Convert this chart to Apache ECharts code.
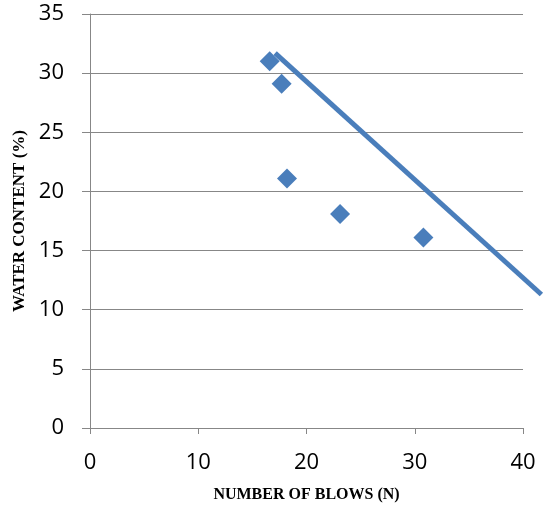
<!DOCTYPE html>
<html><head><meta charset="utf-8">
<script src="https://cdn.jsdelivr.net/npm/echarts@6/dist/echarts.min.js"></script>
<style>html,body{margin:0;padding:0;background:#fff}#c{width:546px;height:508px}</style>
</head><body><div id="c"></div>
<script>
const blows = [16.6, 17.7, 18.2, 23.1, 30.8];
const waterContent = [31.0, 29.1, 21.1, 18.1, 16.1];
const fitX = [17.1, 41.7];
const fitY = [31.7, 11.4];
const xTicks = [0, 10, 20, 30, 40];
const yTicks = [0, 5, 10, 15, 20, 25, 30, 35];

const chart = echarts.init(document.getElementById('c'), null, {renderer: 'canvas'});
const blue = '#4A7EBB';
const gray = '#878787';
const plotLeft = 90, plotRight = 23, plotTop = 14, plotBottom = 78;
const plotW = 546 - plotLeft - plotRight;
const xMax = xTicks[xTicks.length-1];
// overflow grid (same scale, extends to the right edge) so the fit line can run past x=40
const xMaxExt = xMax * (546 - plotLeft) / plotW;
chart.setOption({
  animation: false,
  grid: [
    {left: plotLeft, right: plotRight, top: plotTop, bottom: plotBottom, containLabel: false},
    {left: plotLeft, right: 0, top: plotTop, bottom: plotBottom, containLabel: false}
  ],
  xAxis: [{
    type: 'value', gridIndex: 0, min: xTicks[0], max: xMax, interval: 10,
    name: 'NUMBER OF BLOWS (N)', nameLocation: 'middle', nameGap: 59,
    nameTextStyle: {fontFamily: 'Liberation Serif', fontWeight: 'bold', fontSize: 16, color: '#000'},
    axisLine: {show: true, onZero: false, lineStyle: {color: gray, width: 1}},
    axisTick: {show: true, length: 6, lineStyle: {color: gray}},
    axisLabel: {margin: 24, fontFamily: 'Open Sans', fontSize: 22, color: '#000'},
    splitLine: {show: false}
  }, {
    type: 'value', gridIndex: 1, min: 0, max: xMaxExt, show: false, splitLine: {show: false}
  }],
  yAxis: [{
    type: 'value', gridIndex: 0, min: yTicks[0], max: yTicks[yTicks.length-1], interval: 5,
    name: 'WATER CONTENT (%)', nameLocation: 'middle', nameGap: 57,
    nameTextStyle: {fontFamily: 'Liberation Serif', fontWeight: 'bold', fontSize: 17, color: '#000'},
    axisLine: {show: true, onZero: false, lineStyle: {color: gray, width: 1}},
    axisTick: {show: true, length: 8, lineStyle: {color: gray}},
    axisLabel: {margin: 26, padding: [3, 0, 0, 0], fontFamily: 'Open Sans', fontSize: 22, color: '#000'},
    splitLine: {show: true, lineStyle: {color: gray, width: 1}}
  }, {
    type: 'value', gridIndex: 1, min: yTicks[0], max: yTicks[yTicks.length-1], show: false, splitLine: {show: false}
  }],
  series: [
    {
      type: 'line', xAxisIndex: 1, yAxisIndex: 1, data: fitX.map((x, i) => [x, fitY[i]]),
      showSymbol: false, symbol: 'none', lineStyle: {color: blue, width: 5}, z: 2
    },
    {
      type: 'scatter', xAxisIndex: 0, yAxisIndex: 0, data: blows.map((x, i) => [x, waterContent[i]]),
      symbol: 'diamond', symbolSize: [20, 20], itemStyle: {color: blue, opacity: 1}, z: 3
    }
  ]
});
</script></body></html>
